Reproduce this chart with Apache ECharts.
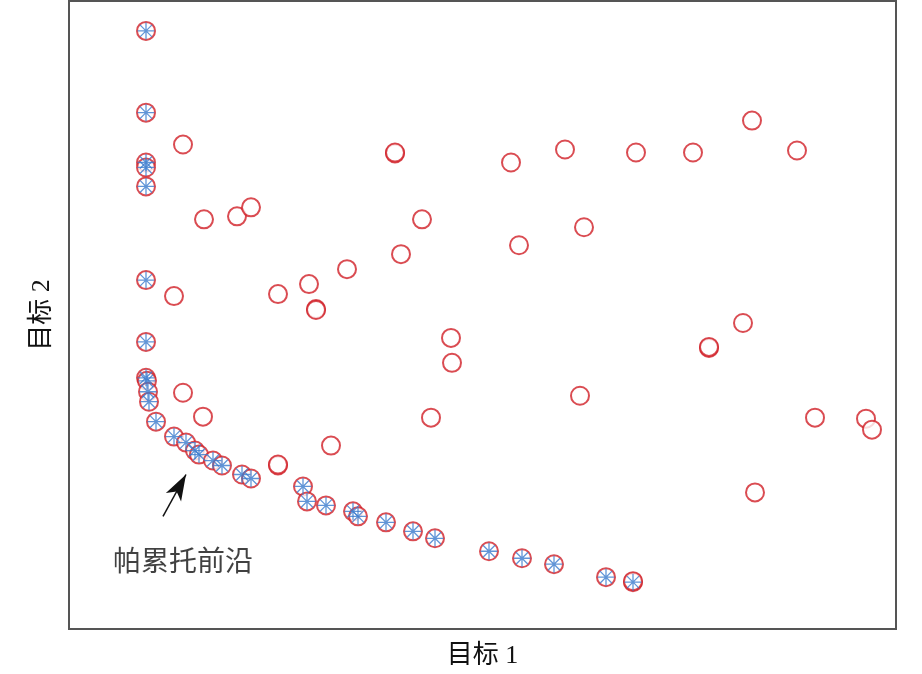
<!DOCTYPE html>
<html><head><meta charset="utf-8">
<script src="https://cdn.jsdelivr.net/npm/echarts@6/dist/echarts.min.js"></script>
<style>html,body{margin:0;padding:0;background:#fff}#c{width:922px;height:674px}</style>
</head><body><div id="c"></div>
<script>
// Values in arbitrary objective units
const paretoX = [77,77,77,77,77,77,77,77,78,79,80,87,105,117,126,130,144,153,173,182,234,238,257,284,289,317,344,366,420,453,485,537,564];
const paretoY = [600,518,468,463,444,350,288,252,249,238,228,208,193,187,179,175,169,164,155,151,143,128,124,118,113,107,98,91,78,71,65,52,47];
const otherX = [114,135,168,182,105,209,240,247,247,278,326,326,332,353,382,383,362,262,209,209,114,134,442,450,496,515,511,567,624,683,728,640,640,674,686,746,797,803,564];
const otherY = [486,411,414,423,334,336,346,321,320,361,477,478,376,411,292,267,212,184,164,165,237,213,468,385,481,403,234,478,478,510,480,282,283,307,137,212,211,200,48];
const arrowFrom = [94,113];
const arrowTo = [117,155];
const labelPos = [114,66];
const labelText = '帕累托前沿';
const xName = '目标 1';
const yName = '目标 2';

const pareto = paretoX.map((x,i)=>[x,paretoY[i]]);
const others = otherX.map((x,i)=>[x,otherY[i]]);
const font = '"Liberation Serif", "Noto Sans CJK SC", serif';
const red = '#d11f27';
const blue = '#3a7bcd';

const chart = echarts.init(document.getElementById('c'));
chart.setOption({
  animation:false,
  backgroundColor:'#fff',
  grid:{left:69,right:26,top:1,bottom:43,show:true,borderColor:'#555',borderWidth:2},
  xAxis:{type:'value',min:0,max:827,name:xName,nameLocation:'middle',nameGap:14,
    nameTextStyle:{fontFamily:font,fontSize:26,color:'#111'},
    axisLine:{show:false},axisTick:{show:false},axisLabel:{show:false},splitLine:{show:false}},
  yAxis:{type:'value',min:0,max:630,name:yName,nameLocation:'middle',nameGap:14,
    nameTextStyle:{fontFamily:font,fontSize:26,color:'#111'},
    axisLine:{show:false},axisTick:{show:false},axisLabel:{show:false},splitLine:{show:false}},
  series:[
    {type:'scatter',data:pareto.concat(others),symbol:'emptyCircle',symbolSize:18,
     itemStyle:{color:red,borderColor:red,borderWidth:1.7},z:2,
     markLine:{silent:true,symbol:['none','arrow'],symbolSize:[13,26],
       lineStyle:{color:'#111',width:1.5,type:'solid'},label:{show:false},
       data:[[{coord:arrowFrom},{coord:arrowTo}]]}},
    {type:'scatter',data:pareto,
     symbol:'path://M0,-10L0,10M-10,0L10,0M-7.07,-7.07L7.07,7.07M-7.07,7.07L7.07,-7.07',
     symbolSize:17,itemStyle:{color:'none',borderColor:blue,borderWidth:1.3},z:3},
    {type:'scatter',data:[labelPos],symbolSize:0,z:4,
     label:{show:true,position:'inside',formatter:labelText,fontFamily:font,fontSize:28,color:'#111'}}
  ]
});
</script></body></html>
